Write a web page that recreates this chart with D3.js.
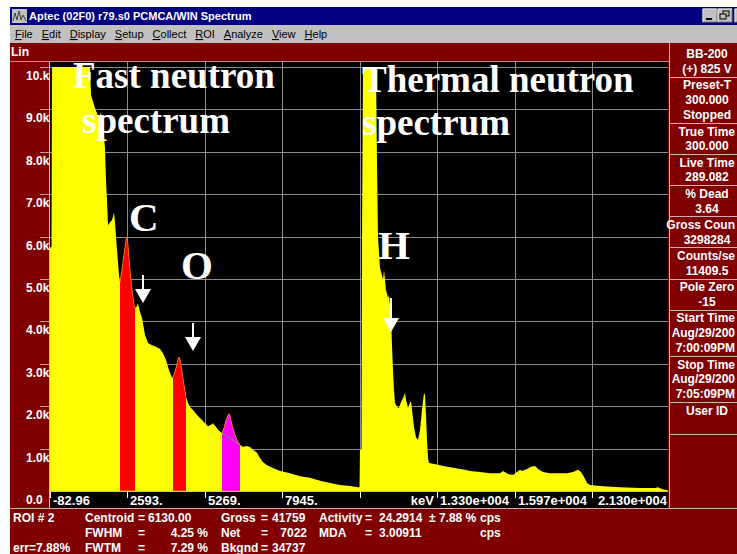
<!DOCTYPE html>
<html>
<head>
<meta charset="utf-8">
<script src="https://cdn.jsdelivr.net/npm/d3@7"></script>
<style>
body { margin: 0; background: #fff; }
svg { display: block; }
text { font-family: "Liberation Sans", Arial, sans-serif; }
text.note { font-family: "Liberation Serif", "Times New Roman", serif; }
</style>
</head>
<body>
<div id="app"></div>
<script>
// spectrum (energy in keV, counts per channel)
let energyKeV = [-83, -83, -31, -14, 1298, 1333, 1471, 1609, 1678, 1747, 1816, 1851, 1885, 1920, 1989, 2058, 2127, 2161, 2231, 2300,
  2334, 2403, 2472, 2541, 2576, 2610, 2679, 2748, 2818, 2852, 2921, 2956, 3025, 3094, 3197, 3301, 3439, 3577, 3715, 3819,
  3922, 4026, 4130, 4164, 4199, 4268, 4337, 4371, 4406, 4475, 4544, 4613, 4682, 4751, 4855, 4993, 5131, 5269, 5373, 5476,
  5545, 5649, 5753, 5856, 5925, 5994, 6063, 6098, 6132, 6201, 6305, 6409, 6478, 6581, 6719, 6823, 6927, 7065, 7168, 7272,
  7410, 7617, 7859, 8204, 8550, 8895, 9240, 9585, 9931, 10276, 10552, 10604, 10621, 10673, 10690, 10725, 11174, 11208, 11243, 11312,
  11381, 11415, 11450, 11484, 11519, 11588, 11622, 11657, 11692, 11726, 11761, 11795, 11830, 11899, 11968, 12037, 12106, 12175, 12210, 12279,
  12348, 12382, 12417, 12486, 12555, 12624, 12693, 12762, 12831, 12866, 12900, 12935, 12969, 13004, 13142, 13384, 13625, 13902, 14074, 14247,
  14420, 14765, 15110, 15456, 15559, 15732, 15904, 16042, 16146, 16215, 16388, 16526, 16664, 16768, 16940, 17182, 17527, 17769, 17976, 18149,
  18252, 18356, 18460, 18563, 18909, 19599, 20290, 20808, 20911, 21049, 21222, 21256];
let counts = [0, 5750, 5750, 10000, 10000, 9340, 9030, 8800, 8940, 8630, 8090, 7330, 6860, 6270, 6340, 6390, 6560, 6340, 5680, 5090,
  4930, 5210, 5570, 5920, 5990, 5800, 5210, 4740, 4390, 4320, 4360, 4430, 4220, 4080, 3680, 3490, 3440, 3400, 3350, 3250,
  3090, 2850, 2670, 2690, 2740, 2900, 3090, 3160, 3090, 2810, 2500, 2220, 2080, 1980, 1910, 1790, 1700, 1600, 1530, 1560,
  1600, 1510, 1420, 1370, 1490, 1670, 1790, 1820, 1770, 1560, 1320, 1160, 1090, 1040, 1060, 1040, 970, 900, 780, 680,
  610, 540, 470, 420, 350, 310, 240, 190, 140, 120, 90, 90, 970, 970, 5990, 10000, 10000, 7730, 5990, 5260,
  5090, 4980, 5210, 4980, 4740, 4550, 4620, 4390, 4080, 3440, 2850, 2380, 2080, 1980, 1960, 2100, 2190, 2310, 2150, 1960,
  2080, 2120, 1910, 1510, 1270, 1200, 1440, 1910, 2310, 2260, 1790, 1200, 780, 660, 640, 610, 570, 540, 520, 500,
  470, 450, 420, 420, 470, 400, 380, 450, 500, 470, 520, 570, 590, 520, 450, 420, 420, 420, 450, 500,
  450, 330, 190, 140, 120, 90, 70, 70, 90, 50, 20, 20];

// regions of interest (keV)
let roiStart = [2334, 4164, 5856];
let roiEnd = [2852, 4613, 6478];
let activeRoi = 2;

let yTicks = [0, 1000, 2000, 3000, 4000, 5000, 6000, 7000, 8000, 9000, 10000];
let yTickLabels = ["0.0", "1.0k", "2.0k", "3.0k", "4.0k", "5.0k", "6.0k", "7.0k", "8.0k", "9.0k", "10.k"];
let xTicks = [-82.96, 2593, 5269, 7945, 10621, 13297, 15973, 18649];
let xTickLabels = ["-82.96", "2593.", "5269.", "7945.", "", "1.330e+004", "1.597e+004", ""];
let xMax = 21256;

let menuItems = ["File", "Edit", "Display", "Setup", "Collect", "ROI", "Analyze", "View", "Help"];
let panelRows = [["BB-200", "(+) 825 V"], ["Preset-T", "300.000", "Stopped"], ["True Time", "300.000"], ["Live Time", "289.082"],
  ["% Dead", "3.64"], ["Gross Coun", "3298284"], ["Counts/se", "11409.5"], ["Pole Zero", "-15"],
  ["Start Time", "Aug/29/200", "7:00:09PM"], ["Stop Time", "Aug/29/200", "7:05:09PM"], ["User ID"]];

let maroon = "#800000";
let w = 737; let h = 554;

let svg = d3.select("#app").append("svg").attr("width", w).attr("height", h);

svg.append("rect").attr("width", w).attr("height", h).attr("fill", "#fff");

// title bar
svg.append("rect").attr("x", 10).attr("y", 7).attr("width", w - 10).attr("height", 18).attr("fill", "#000080");
svg.append("rect").attr("x", 12).attr("y", 9).attr("width", 15).attr("height", 14).attr("fill", "#c0c0c0");
svg.append("path").attr("d", "M13,21 L15,13 L17,20 L19,11 L21,20 L23,15 L26,21").attr("fill", "none").attr("stroke", "#404040");
svg.append("text").attr("x", 29).attr("y", 20).attr("fill", "#fff").attr("font-size", 11).attr("font-weight", "bold")
  .text("Aptec (02F0) r79.s0 PCMCA/WIN Spectrum");
[703, 718, 735].forEach((bx) => {
  svg.append("rect").attr("x", bx).attr("y", 9).attr("width", 14).attr("height", 13).attr("fill", "#c0c0c0")
    .attr("stroke", "#808080").attr("stroke-width", 1);
  svg.append("path").attr("d", `M${bx},22 L${bx},9 L${bx + 14},9`).attr("stroke", "#fff").attr("fill", "none");
});
svg.append("rect").attr("x", 706).attr("y", 18).attr("width", 6).attr("height", 2).attr("fill", "#000");
svg.append("rect").attr("x", 723).attr("y", 11).attr("width", 6).attr("height", 5).attr("fill", "none").attr("stroke", "#000");
svg.append("rect").attr("x", 720).attr("y", 14).attr("width", 6).attr("height", 5).attr("fill", "#c0c0c0").attr("stroke", "#000");

// menu bar
svg.append("rect").attr("x", 10).attr("y", 25).attr("width", w - 10).attr("height", 18).attr("fill", "#c0c0c0");
let mx = 15;
menuItems.forEach((m) => {
  let t = svg.append("text").attr("x", mx).attr("y", 38).attr("font-size", 11).attr("fill", "#000");
  t.append("tspan").attr("text-decoration", "underline").text(m[0]);
  t.append("tspan").text(m.slice(1));
  mx += t.node().getComputedTextLength() + 9;
});

// main window
svg.append("rect").attr("x", 10).attr("y", 43).attr("width", w - 10).attr("height", h - 43).attr("fill", maroon);
svg.append("text").attr("x", 11).attr("y", 56).attr("fill", "#fff").attr("font-size", 12).attr("font-weight", "bold").text("Lin");

let x0 = 50; let x1 = 668; let yTop = 62; let yBase = 491;
let xScale = d3.scaleLinear().domain([-82.96, xMax]).range([x0, x1]);
let yScale = d3.scaleLinear().domain([0, 10000]).range([yBase, 67]);

svg.append("rect").attr("x", x0 - 1).attr("y", yTop).attr("width", x1 - x0 + 1).attr("height", 508 - yTop).attr("fill", "#000");
svg.append("line").attr("x1", 10).attr("x2", x1 + 2).attr("y1", yTop - 0.5).attr("y2", yTop - 0.5).attr("stroke", "#b09090");

// grid
let grid = svg.append("g").attr("stroke", "#8c8c8c").attr("stroke-width", 1);
grid.selectAll("line.h").data(yTicks.slice(1)).enter().append("line")
  .attr("x1", x0).attr("x2", x1)
  .attr("y1", (d) => Math.round(yScale(d)) + 0.5).attr("y2", (d) => Math.round(yScale(d)) + 0.5);
grid.selectAll("line.v").data(xTicks.slice(1)).enter().append("line")
  .attr("y1", yTop).attr("y2", yBase)
  .attr("x1", (d) => Math.round(xScale(d)) + 0.5).attr("x2", (d) => Math.round(xScale(d)) + 0.5);

let spectrum = energyKeV.map((e, i) => ({ e: e, c: counts[i] }));
let area = d3.area().x((d) => xScale(d.e)).y0(yBase).y1((d) => yScale(d.c));

let defs = svg.append("defs");
defs.append("clipPath").attr("id", "plotClip").append("rect")
  .attr("x", x0).attr("y", yTop).attr("width", x1 - x0).attr("height", yBase - yTop);

svg.append("path").datum(spectrum).attr("d", area).attr("fill", "#ffff00").attr("clip-path", "url(#plotClip)");

// ROI fills
roiStart.forEach((s, i) => {
  let id = "roi" + i;
  defs.append("clipPath").attr("id", id).append("rect")
    .attr("x", xScale(s)).attr("y", yTop).attr("width", xScale(roiEnd[i]) - xScale(s)).attr("height", yBase - yTop);
  svg.append("path").datum(spectrum).attr("d", area)
    .attr("fill", i === activeRoi ? "#ff00ff" : "#ff0000")
    .attr("stroke", "#ff8000").attr("stroke-width", 0.8)
    .attr("clip-path", `url(#${id})`);
});

// background line under the active ROI
let countAt = (e) => counts[d3.bisectLeft(energyKeV, e)];
svg.append("line")
  .attr("x1", xScale(roiStart[activeRoi])).attr("y1", yScale(countAt(roiStart[activeRoi])))
  .attr("x2", xScale(roiEnd[activeRoi])).attr("y2", yScale(countAt(roiEnd[activeRoi])))
  .attr("stroke", "#00ff00").attr("stroke-width", 1).attr("stroke-dasharray", "2,1");

// x axis strip
svg.append("line").attr("x1", x0 - 1).attr("x2", x1).attr("y1", yBase + 0.5).attr("y2", yBase + 0.5).attr("stroke", "#c0c0c0");
svg.append("line").attr("x1", x0 - 0.5).attr("x2", x0 - 0.5).attr("y1", yTop).attr("y2", 508).attr("stroke", "#c0c0c0");
svg.append("g").selectAll("line").data(xTicks).enter().append("line")
  .attr("x1", (d) => Math.round(xScale(d)) + 0.5).attr("x2", (d) => Math.round(xScale(d)) + 0.5)
  .attr("y1", yBase + 1).attr("y2", yBase + 7).attr("stroke", "#fff");
svg.append("g").selectAll("text").data(xTicks).enter().append("text")
  .attr("x", (d) => Math.round(xScale(d)) + 3).attr("y", 505)
  .attr("fill", "#fff").attr("font-size", 13).attr("font-weight", "bold")
  .text((d, i) => xTickLabels[i]);
svg.append("text").attr("x", Math.round(xScale(xTicks[5])) - 3).attr("y", 505).attr("text-anchor", "end")
  .attr("fill", "#fff").attr("font-size", 13).attr("font-weight", "bold").text("keV");
svg.append("text").attr("x", x1 - 1).attr("y", 505).attr("text-anchor", "end")
  .attr("fill", "#fff").attr("font-size", 13).attr("font-weight", "bold").text("2.130e+004");

// y axis labels
svg.append("g").selectAll("line").data(yTicks.slice(1)).enter().append("line")
  .attr("x1", 40).attr("x2", x0 - 1)
  .attr("y1", (d) => Math.round(yScale(d)) + 0.5).attr("y2", (d) => Math.round(yScale(d)) + 0.5)
  .attr("stroke", "#c0a0a0");
svg.append("g").selectAll("text").data(yTicks).enter().append("text")
  .attr("x", 26).attr("y", (d) => yScale(d) + 13)
  .attr("fill", "#fff").attr("font-size", 12).attr("font-weight", "bold")
  .text((d, i) => yTickLabels[i]);

// bottom separator
svg.append("line").attr("x1", 10).attr("x2", w).attr("y1", 508.5).attr("y2", 508.5).attr("stroke", "#d0b0b0");

// right status panel
let panel = svg.append("g");
panel.append("line").attr("x1", 669.5).attr("x2", 669.5).attr("y1", 43).attr("y2", 508).attr("stroke", "#d0b0b0");
let boxTop = 45.5;
panelRows.forEach((rows) => {
  rows.forEach((r, i) => {
    let t = panel.append("text").attr("x", 707).attr("y", boxTop + 12.5 + i * 14.8)
      .attr("text-anchor", "middle").attr("fill", "#fff").attr("font-size", 12).attr("font-weight", "bold").text(r);
    let len = t.node().getComputedTextLength();
    if (707 + len / 2 > 735) t.attr("text-anchor", "end").attr("x", 735);
  });
  boxTop += Math.max(2, rows.length) * 15.3 + 0.5;
  panel.append("line").attr("x1", 670).attr("x2", w).attr("y1", Math.round(boxTop) + 0.5).attr("y2", Math.round(boxTop) + 0.5).attr("stroke", "#d0b0b0");
});

// ROI report
let roiNumber = 2; let centroid = "6130.00"; let fwhm = "4.25 %"; let fwtm = "7.29 %";
let gross = "41759"; let net = "7022"; let bkgnd = "34737";
let activity = "24.2914"; let activityErr = "± 7.88 %"; let mda = "3.00911"; let errText = "err=7.88%";
let info = svg.append("g").attr("fill", "#fff").attr("font-size", 12).attr("font-weight", "bold");
let put = (x, y, s, anchor) => info.append("text").attr("x", x).attr("y", y).attr("text-anchor", anchor || "start").text(s);
let r1 = 522; let r2 = 537; let r3 = 552;
put(13, r1, "ROI # " + roiNumber);
put(13, r3, errText);
put(85, r1, "Centroid"); put(138, r1, "="); put(148, r1, centroid);
put(85, r2, "FWHM"); put(138, r2, "="); put(208, r2, fwhm, "end");
put(85, r3, "FWTM"); put(138, r3, "="); put(208, r3, fwtm, "end");
put(221, r1, "Gross"); put(261, r1, "="); put(272, r1, gross);
put(221, r2, "Net"); put(261, r2, "="); put(307, r2, net, "end");
put(221, r3, "Bkgnd"); put(261, r3, "="); put(272, r3, bkgnd);
put(319, r1, "Activity"); put(365, r1, "="); put(379, r1, activity); put(429, r1, activityErr); put(480, r1, "cps");
put(319, r2, "MDA"); put(365, r2, "="); put(379, r2, mda); put(480, r2, "cps");

// annotations
let notes = svg.append("g").attr("fill", "#fff").attr("font-weight", "bold");
let note = (x, y, s, size) => notes.append("text").attr("class", "note")
  .attr("x", x).attr("y", y).attr("font-size", size).text(s);
note(73, 88, "Fast neutron", 37);
note(82, 133, "spectrum", 37);
note(362, 92, "Thermal neutron", 37);
note(362, 135, "spectrum", 37);
note(129, 231, "C", 41);
note(181, 279, "O", 41);
note(378, 259, "H", 41);

let arrow = (ax, ya, yb) => {
  notes.append("rect").attr("x", ax - 1).attr("y", ya).attr("width", 2).attr("height", yb - ya - 12);
  notes.append("path").attr("d", `M${ax - 8},${yb - 14} L${ax + 8},${yb - 14} L${ax},${yb} Z`);
};
arrow(143, 275, 303);
arrow(193, 323, 351);
arrow(391, 298, 332);
</script>
</body>
</html>
